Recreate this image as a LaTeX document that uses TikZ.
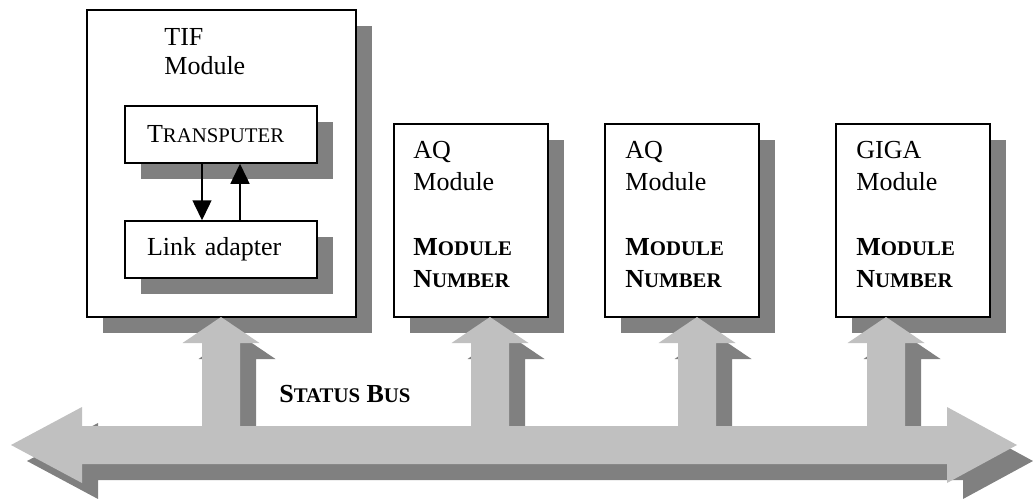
\documentclass[tikz,border=0pt]{standalone}
\usepackage{fontspec}
\setmainfont{Liberation Serif}
\usetikzlibrary{positioning, shadows, arrows.meta}
\definecolor{busgray}{RGB}{192,192,192}
\definecolor{shadowgray}{RGB}{128,128,128}
\newcommand{\scap}[2]{#1{\fontsize{10.4}{12}\selectfont #2}}
\tikzset{
  module/.style={draw, line width=0.75pt, fill=white, minimum width=77pt, minimum height=96.5pt,
    drop shadow={shadow xshift=8pt, shadow yshift=-8pt, fill=shadowgray, opacity=1}},
  unit/.style={module, minimum width=96pt, minimum height=28.5pt, text width=74pt, 
    align=left, inner xsep=11pt, font=\fontsize{13}{15.75}\selectfont},
  modtext/.style={anchor=base west, align=left, inner sep=0pt, font=\fontsize{13}{15.75}\selectfont},
  bus/.style={fill=busgray, drop shadow={shadow xshift=8pt, shadow yshift=-8pt, fill=shadowgray, opacity=1}}
}

\begin{document}
\begin{tikzpicture}[x=0.5pt, y=-0.5pt, >={Triangle[width=9.5pt,length=10pt]}]
\useasboundingbox (0,0) rectangle (1033,498);

% TIF module
\node [module, minimum width=134.5pt, minimum height=153.5pt] (tif) at (221.5,163.5) {};
\node [modtext, font=\fontsize{13}{14.25}\selectfont] (tiftxt) at (164,74) {TIF\\Module};
\node [unit] (transputer) at (221,134.5) {\scap{T}{RANSPUTER}};
\node [unit, below=28.25pt of transputer] (link) {Link adapter};
\draw[->, line width=0.75pt] ([xshift=-9.5pt]transputer.south) -- ([xshift=-9.5pt]link.north);
\draw[->, line width=0.75pt] ([xshift=9.5pt]link.north) -- ([xshift=9.5pt]transputer.south);

% modules on the bus
\node [module] (aqa) at (471,220.5) {};
\node [modtext] (aqatxt) at (413,287) {AQ\\Module\\[17pt]\textbf{\scap{M}{ODULE}}\\\textbf{\scap{N}{UMBER}}};
\node [module] (aqb) at (682,220.5) {};
\node [modtext] (aqbtxt) at (625,287) {AQ\\Module\\[17pt]\textbf{\scap{M}{ODULE}}\\\textbf{\scap{N}{UMBER}}};
\node [module] (giga) at (913,220.5) {};
\node [modtext] (gigatxt) at (856,287) {GIGA\\Module\\[17pt]\textbf{\scap{M}{ODULE}}\\\textbf{\scap{N}{UMBER}}};

% status bus
\fill [bus] (11,445) -- (82,407) -- (82,426)
  \foreach \c in {221,490,697,886} {
    -- (\c-19,426) -- (\c-19,343) -- (\c-38.5,343) -- (\c,317)
    -- (\c+38.5,343) -- (\c+19,343) -- (\c+19,426)
  }
  -- (947,426) -- (947,407) -- (1017,445) -- (947,483) -- (947,464)
  -- (82,464) -- (82,483) -- cycle;
\node [modtext] (bustxt) at (279,402) {\textbf{\scap{S}{TATUS} \scap{B}{US}}};

\end{tikzpicture}
\end{document}
